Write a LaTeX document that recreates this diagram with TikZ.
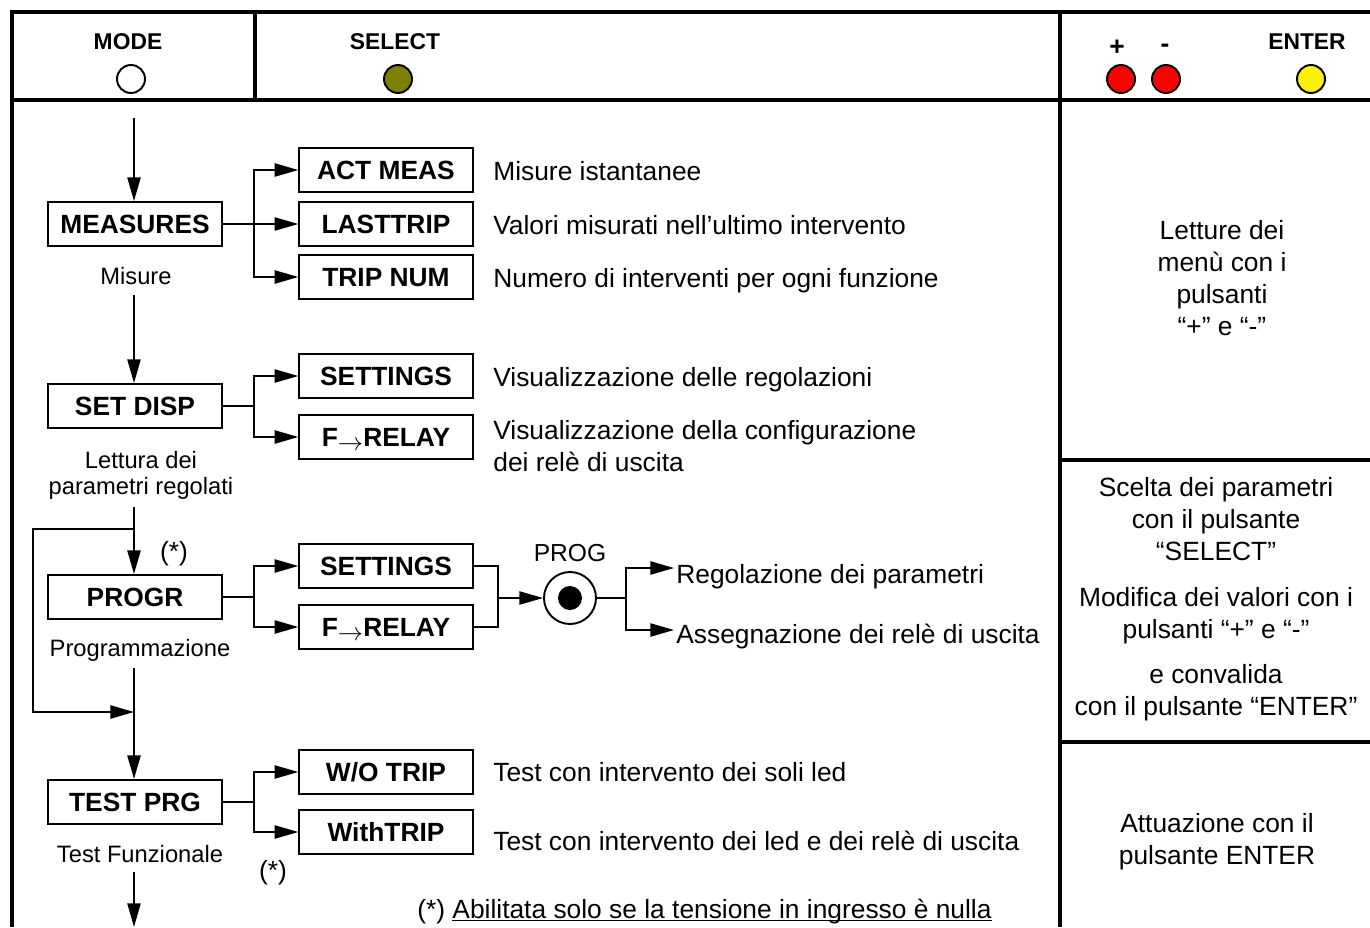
\documentclass[tikz,border=0pt]{standalone}
\usepackage{fontspec}
\setmainfont{Liberation Sans}
\usetikzlibrary{arrows.meta}
\tikzset{>={Triangle[length=13.5pt,width=7.5pt]}}
\tikzset{
  frame/.style={line width=2.8pt},
  link/.style={line width=1.1pt},
  menubox/.style={draw, line width=1.1pt, minimum width=3.47cm, minimum height=0.88cm,
    inner sep=0pt, font=\fontsize{15}{18}\selectfont\bfseries, text height=10.7pt, text depth=0pt},
  desc/.style={anchor=base west, inner sep=0pt, font=\fontsize{15}{18.2}\selectfont, align=left},
  note/.style={anchor=base, inner sep=0pt, font=\fontsize{13.5}{14.8}\selectfont, align=center},
  hint/.style={anchor=base, inner sep=0pt, font=\fontsize{15}{18.2}\selectfont, align=center},
  key/.style={circle, draw, line width=1.1pt, minimum size=0.56cm, inner sep=0pt},
  keylabel/.style={anchor=base, inner sep=0pt, font=\fontsize{13}{16}\selectfont\bfseries},
}
\newcommand{\torel}{F{\raisebox{-2.5pt}{$\rightarrow$}}RELAY}
\newlength{\ulwd}
\newcommand{\ulined}[1]{\settowidth{\ulwd}{#1}\rlap{\rule[-1.8pt]{\ulwd}{0.7pt}}#1}

\begin{document}
\begin{tikzpicture}[x=0.02cm, y=-0.02cm]
    \useasboundingbox (0,0) rectangle (1370,927);
    % frame
    \draw[frame] (12,927) -- (12,12) -- (1370,12);
    \draw[frame] (12,100) -- (1370,100);
    \draw[frame] (255,12) -- (255,100);
    \draw[frame] (1060,12) -- (1060,927);
    \draw[frame] (1060,460) -- (1370,460);
    \draw[frame] (1060,742) -- (1370,742);
    %
    % keys
    \node[keylabel] (lmode) at (128,49) {MODE};
    \node[key] (kmode) at (131,79) {};
    \node[keylabel] (lsel) at (395,49) {SELECT};
    \node[key, fill={rgb,255:red,128;green,128;blue,0}] (ksel) at (398,79) {};
    \node[keylabel, font=\fontsize{15}{18}\selectfont\bfseries] (lplus) at (1117,55) {+};
    \node[keylabel, font=\fontsize{15}{18}\selectfont\bfseries] (lminus) at (1165,52) {-};
    \node[key, fill=red] (kplus) at (1121,79) {};
    \node[key, fill=red] (kminus) at (1166,79) {};
    \node[keylabel] (lent) at (1307,49) {ENTER};
    \node[key, fill=yellow] (kent) at (1311,79) {};
    %
    % menu column
    \node[menubox] (meas) at (135,224) {MEASURES};
    \node[note] (lmeas) at (136,284) {Misure};
    \node[menubox] (sdisp) at (135,406) {SET DISP};
    \node[note] (lsdisp) at (141,494) {Lettura dei\\parametri regolati};
    \node[menubox] (progr) at (135,597) {PROGR};
    \node[note] (lprogr) at (140,656) {Programmazione};
    \node[menubox] (test) at (135,802) {TEST PRG};
    \node[note] (ltest) at (140,862) {Test Funzionale};
    \node[desc, anchor=base] (star1) at (174,560) {(*)};
    \node[desc, anchor=base] (star2) at (273,879) {(*)};
    %
    \coordinate (entry) at (134,118);
    \coordinate (m2) at (134,295);
    \coordinate (s2) at (134,507);
    \coordinate (loopin) at (134,529);
    \coordinate (loopout) at (134,712);
    \coordinate (p2) at (134,668);
    \coordinate (t2) at (134,872);
    \coordinate (exit) at (134,927);
    \draw[link,->] (entry) -- (entry |- meas.north);
    \draw[link,->] (m2) -- (m2 |- sdisp.north);
    \draw[link,->] (s2) -- (s2 |- progr.north);
    \draw[link,->] (loopin) -- ++(-101,0) |- (loopout);
    \draw[link,->] (p2) -- (p2 |- test.north);
    \draw[link,->] (t2) -- (exit);
    %
    % sub menus
    \node[menubox] (actm) at (386,170) {ACT MEAS};
    \node[menubox] (last) at (386,224) {LASTTRIP};
    \node[menubox] (tnum) at (386,277) {TRIP NUM};
    \node[menubox] (sset) at (386,376) {SETTINGS};
    \node[menubox] (srel) at (386,437) {\torel};
    \node[menubox] (pset) at (386,566) {SETTINGS};
    \node[menubox] (prel) at (386,627) {\torel};
    \node[menubox] (wotr) at (386,772) {W/O TRIP};
    \node[menubox] (witr) at (386,832) {WithTRIP};
    %
    \coordinate (mb) at (254,224);
    \coordinate (sb) at (254,406);
    \coordinate (pb) at (254,597);
    \coordinate (tb) at (254,802);
    \draw[link] (meas.east) -- (mb);
    \draw[link,->] (mb) |- (actm.west);
    \draw[link,->] (mb) -- (last.west);
    \draw[link,->] (mb) |- (tnum.west);
    \draw[link] (sdisp.east) -- (sb);
    \draw[link,->] (sb) |- (sset.west);
    \draw[link,->] (sb) |- (srel.west);
    \draw[link] (progr.east) -- (pb);
    \draw[link,->] (pb) |- (pset.west);
    \draw[link,->] (pb) |- (prel.west);
    \draw[link] (test.east) -- (tb);
    \draw[link,->] (tb) |- (wotr.west);
    \draw[link,->] (tb) |- (witr.west);
    %
    % programming key
    \node[circle, draw, line width=1.1pt, minimum size=1.04cm, inner sep=0pt] (prog) at (570,598) {};
    \node[circle, fill, minimum size=0.48cm, inner sep=0pt] (progdot) at (prog) {};
    \node[keylabel, font=\fontsize{14}{16}\selectfont] (lprog) at (570,561) {PROG};
    \coordinate (pj) at (498,598);
    \coordinate (qj) at (626,598);
    \coordinate (rega) at (674,568);
    \coordinate (regb) at (674,630);
    \draw[link] (pset.east) -| (pj) |- (prel.east);
    \draw[link,->] (pj) -- (prog.west);
    \draw[link] (prog.east) -- (qj);
    \draw[link,->] (qj) |- (rega);
    \draw[link,->] (qj) |- (regb);
    \node[desc] (treg) at (676,583) {Regolazione dei parametri};
    \node[desc] (tass) at (676,643) {Assegnazione dei relè di uscita};
    %
    % descriptions
    \node[desc] (dactm) at (493,180) {Misure istantanee};
    \node[desc] (dlast) at (493,234) {Valori misurati nell’ultimo intervento};
    \node[desc] (dtnum) at (493,287) {Numero di interventi per ogni funzione};
    \node[desc] (dsset) at (493,386) {Visualizzazione delle regolazioni};
    \node[desc] (dsrel) at (493,471) {Visualizzazione della configurazione\\dei relè di uscita};
    \node[desc] (dwotr) at (493,781) {Test con intervento dei soli led};
    \node[desc] (dwitr) at (493,850) {Test con intervento dei led e dei relè di uscita};
    \node[desc] (foot) at (417,918) {(*) \ulined{Abilitata solo se la tensione in ingresso è nulla}};
    %
    % right column
    \node[hint] (hread) at (1222,335) {Letture dei\\menù con i\\pulsanti\\“+” e “-”};
    \node[hint, font=\fontsize{15}{18}\selectfont] (hsel) at (1216,560) {Scelta dei parametri\\con il pulsante\\“SELECT”};
    \node[hint] (hmod) at (1216,638) {Modifica dei valori con i\\pulsanti “+” e “-”};
    \node[hint] (hconv) at (1216,715) {e convalida\\con il pulsante “ENTER”};
    \node[hint] (hact) at (1217,864) {Attuazione con il\\pulsante ENTER};
\end{tikzpicture}
\end{document}
